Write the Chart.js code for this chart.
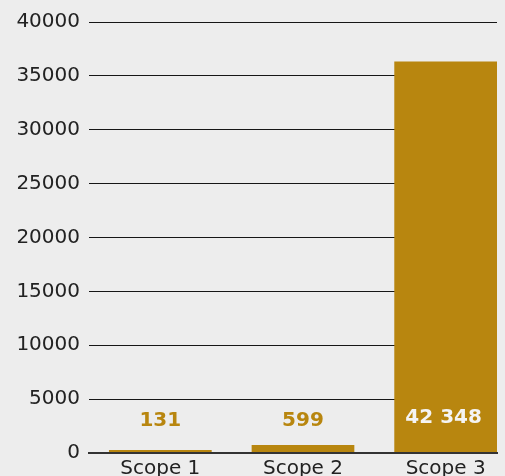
<!DOCTYPE html>
<html>
<head>
<meta charset="utf-8">
<script src="https://cdn.jsdelivr.net/npm/chart.js@4"></script>
<style>
  html, body { margin: 0; padding: 0; background: #ededed; overflow: hidden; }
  #wrap { position: relative; width: 505px; height: 490px; }
</style>
</head>
<body>
<div id="wrap"><canvas id="chart"></canvas></div>
<script>
// values
const categories = ['Scope 1', 'Scope 2', 'Scope 3'];
const barHeights = [280, 740, 36330];
const valueLabels = ['131', '599', '42 348'];
const yTicks = [0, 5000, 10000, 15000, 20000, 25000, 30000, 35000, 40000];

const gold = '#b8860f';
const ink = '#222222';

const valueLabelPlugin = {
  id: 'valueLabels',
  afterDatasetsDraw(chart) {
    const ctx = chart.ctx;
    const yScale = chart.scales.y;
    const meta = chart.getDatasetMeta(0);
    const base = yScale.getPixelForValue(0);
    ctx.save();
    ctx.font = 'bold 20px "DejaVu Sans"';
    ctx.textAlign = 'center';
    ctx.textBaseline = 'alphabetic';
    meta.data.forEach((bar, i) => {
      const inside = bar.y < base - 60;
      // baseline of the digits
      const y = inside ? base - 30 : base - 27;
      ctx.fillStyle = inside ? '#f4f4f4' : gold;
      ctx.fillText(valueLabels[i], bar.x - (inside ? 2 : 0), y);
    });
    ctx.restore();
  }
};

new Chart(document.getElementById('chart'), {
  type: 'bar',
  data: {
    datasets: [{
      data: barHeights.map((v, i) => ({ x: i, y: v })),
      backgroundColor: gold,
      borderWidth: 0
    }]
  },
  options: {
    responsive: true,
    maintainAspectRatio: false,
    animation: false,
    layout: { padding: { top: 22, right: 8, left: 0, bottom: 0 } },
    plugins: {
      legend: { display: false },
      tooltip: { enabled: false }
    },
    scales: {
      x: {
        type: 'linear',
        offset: false,
        min: -0.5,
        max: 2.36,
        grid: { display: false, drawTicks: false },
        border: { display: true, color: '#333333', width: 2, z: 1 },
        afterBuildTicks: (scale) => {
          scale.ticks = categories.map((c, i) => ({ value: i }));
        },
        afterFit: (scale) => { scale.height = 37; },
        ticks: {
          color: ink,
          padding: 4,
          font: { family: 'DejaVu Sans', size: 20 },
          callback: (v) => categories[v]
        }
      },
      y: {
        min: 0,
        max: 40000,
        afterBuildTicks: (scale) => {
          scale.ticks = yTicks.map(v => ({ value: v }));
        },
        afterFit: (scale) => { scale.width = 89; },
        grid: { color: '#161616', lineWidth: 1, drawTicks: false },
        border: { display: false },
        ticks: {
          color: ink,
          padding: 9,
          font: { family: 'DejaVu Sans', size: 20 },
          callback: (v) => String(v)
        }
      }
    }
  },
  plugins: [valueLabelPlugin]
});
</script>
</body>
</html>
